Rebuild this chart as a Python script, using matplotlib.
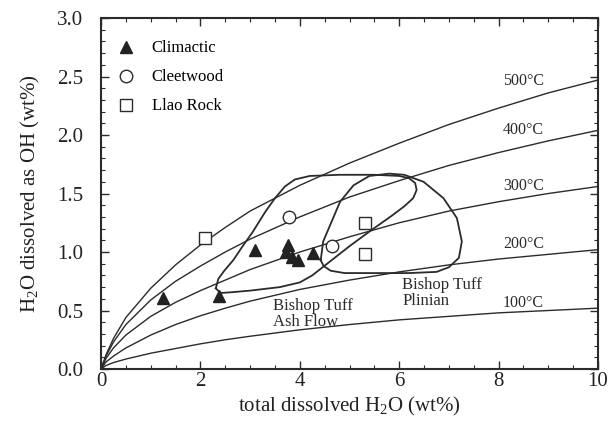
import matplotlib
matplotlib.use("Agg")
import matplotlib.pyplot as plt
from matplotlib.ticker import MultipleLocator

plt.rcParams["font.family"] = ["Liberation Serif", "DejaVu Serif"]
plt.rcParams["mathtext.fontset"] = "custom"
plt.rcParams["mathtext.rm"] = "Liberation Serif"
plt.rcParams["mathtext.it"] = "Liberation Serif:italic"

# ------------ data -----------------------------------#
# isotherms: OH vs total dissolved water
total_h2o = [0, 0.1, 0.25, 0.5, 1, 1.5, 2, 2.5, 3, 4, 5, 6, 7, 8, 9, 10]
oh_500 = [0, 0.12, 0.26, 0.44, 0.69, 0.89, 1.06, 1.21, 1.35, 1.57, 1.76, 1.93, 2.09, 2.23, 2.36, 2.47]
oh_400 = [0, 0.11, 0.23, 0.38, 0.59, 0.75, 0.88, 1.00, 1.11, 1.30, 1.47, 1.61, 1.74, 1.85, 1.95, 2.04]
oh_300 = [0, 0.09, 0.18, 0.29, 0.45, 0.57, 0.67, 0.76, 0.85, 1.00, 1.13, 1.25, 1.35, 1.43, 1.50, 1.56]
oh_200 = [0, 0.06, 0.11, 0.18, 0.29, 0.38, 0.455, 0.52, 0.58, 0.68, 0.76, 0.83, 0.89, 0.94, 0.98, 1.02]
oh_100 = [0, 0.03, 0.055, 0.085, 0.135, 0.175, 0.215, 0.25, 0.28, 0.335, 0.38, 0.42, 0.45, 0.48, 0.50, 0.52]
isotherms = [oh_500, oh_400, oh_300, oh_200, oh_100]
iso_labels = ["500°C", "400°C", "300°C", "200°C", "100°C"]
iso_label_y = [2.46, 2.04, 1.56, 1.07, 0.56]

# samples
climactic_x = [1.25, 2.37, 3.10, 3.77, 3.73, 3.84, 3.97, 4.27]
climactic_y = [0.61, 0.62, 1.02, 1.06, 1.00, 0.96, 0.93, 0.99]
cleetwood_x = [3.78, 4.64]
cleetwood_y = [1.30, 1.05]
llao_x = [2.09, 5.31, 5.31]
llao_y = [1.12, 1.245, 0.98]

# Bishop Tuff fields
ash_x = [2.31, 2.36, 2.48, 2.66, 2.85, 3.05, 3.30, 3.50, 3.70, 3.90, 4.20, 4.80, 5.50,
         6.00, 6.20, 6.32, 6.35, 6.28, 6.10, 5.85, 5.45, 5.00, 4.55, 4.25, 4.00, 3.60,
         3.00, 2.60, 2.40, 2.31]
ash_y = [0.69, 0.77, 0.84, 0.93, 1.05, 1.17, 1.34, 1.46, 1.56, 1.62, 1.65, 1.66, 1.66,
         1.65, 1.63, 1.59, 1.53, 1.46, 1.39, 1.31, 1.19, 1.05, 0.90, 0.80, 0.74, 0.70,
         0.67, 0.655, 0.65, 0.69]
plinian_x = [4.42, 4.47, 4.64, 4.81, 5.08, 5.40, 5.80, 6.10, 6.49, 6.89, 7.16, 7.26,
             7.20, 7.00, 6.75, 6.20, 5.50, 4.90, 4.62, 4.48, 4.42]
plinian_y = [0.93, 1.09, 1.26, 1.43, 1.57, 1.65, 1.67, 1.66, 1.60, 1.46, 1.29, 1.09,
             0.95, 0.87, 0.83, 0.82, 0.82, 0.82, 0.84, 0.88, 0.93]

# ------------ plotting -------------#
ink = "#2b2b2b"
fig = plt.figure(figsize=(6.10, 4.33), dpi=100)
ax = fig.add_axes([0.1656, 0.1478, 0.8148, 0.8106])

for oh, lab, ly in zip(isotherms, iso_labels, iso_label_y):
    ax.plot(total_h2o, oh, color=ink, lw=1.0, zorder=2)
    ax.text(8.5, ly, lab, fontsize=11.5, ha="center", va="center", color=ink)

ax.plot(ash_x, ash_y, color=ink, lw=1.3, zorder=2)
ax.plot(plinian_x, plinian_y, color=ink, lw=1.3, zorder=2)

ax.plot(climactic_x, climactic_y, ls="none", marker="^", ms=8, color="#222222", label="Climactic", zorder=4)
ax.plot(cleetwood_x, cleetwood_y, ls="none", marker="o", ms=9, mfc="white", mec=ink, mew=1.0,
        label="Cleetwood", zorder=4)
ax.plot(llao_x, llao_y, ls="none", marker="s", ms=9, mfc="white", mec=ink, mew=1.0,
        label="Llao Rock", zorder=4)

ax.text(3.46, 0.61, "Bishop Tuff\nAsh Flow", fontsize=12, ha="left", va="top", color=ink, linespacing=1.0)
ax.text(6.06, 0.79, "Bishop Tuff\nPlinian", fontsize=12, ha="left", va="top", color=ink, linespacing=1.0)

ax.legend(loc="upper left", bbox_to_anchor=(0.0335, 0.936), frameon=False, fontsize=12,
          handlelength=1.0, handletextpad=1.05, labelspacing=0.78, borderpad=0, borderaxespad=0)

ax.set_xlim(0, 10)
ax.set_ylim(0, 3.0)
ax.xaxis.set_major_locator(MultipleLocator(2))
ax.xaxis.set_minor_locator(MultipleLocator(0.5))
ax.yaxis.set_major_locator(MultipleLocator(0.5))
ax.yaxis.set_minor_locator(MultipleLocator(0.1))
ax.set_yticklabels([f"{v:.1f}" for v in ax.get_yticks()])

ax.tick_params(which="both", direction="in", top=True, right=True, colors=ink, labelcolor="#222222")
ax.tick_params(which="major", length=6, width=1.0)
ax.tick_params(which="minor", length=3, width=0.8)
ax.tick_params(axis="y", which="major", pad=13, labelsize=15)
ax.tick_params(axis="x", which="major", pad=2, labelsize=15)
for s in ax.spines.values():
    s.set_linewidth(1.5)
    s.set_color(ink)

ax.set_xlabel("total dissolved H$_2$O (wt%)", fontsize=15, color="#222222")
ax.set_ylabel("H$_2$O dissolved as OH (wt%)", fontsize=15, color="#222222")
ax.xaxis.set_label_coords(0.5, -0.074)
ax.yaxis.set_label_coords(-0.119, 0.5)

fig.savefig("out.png", dpi=100)
